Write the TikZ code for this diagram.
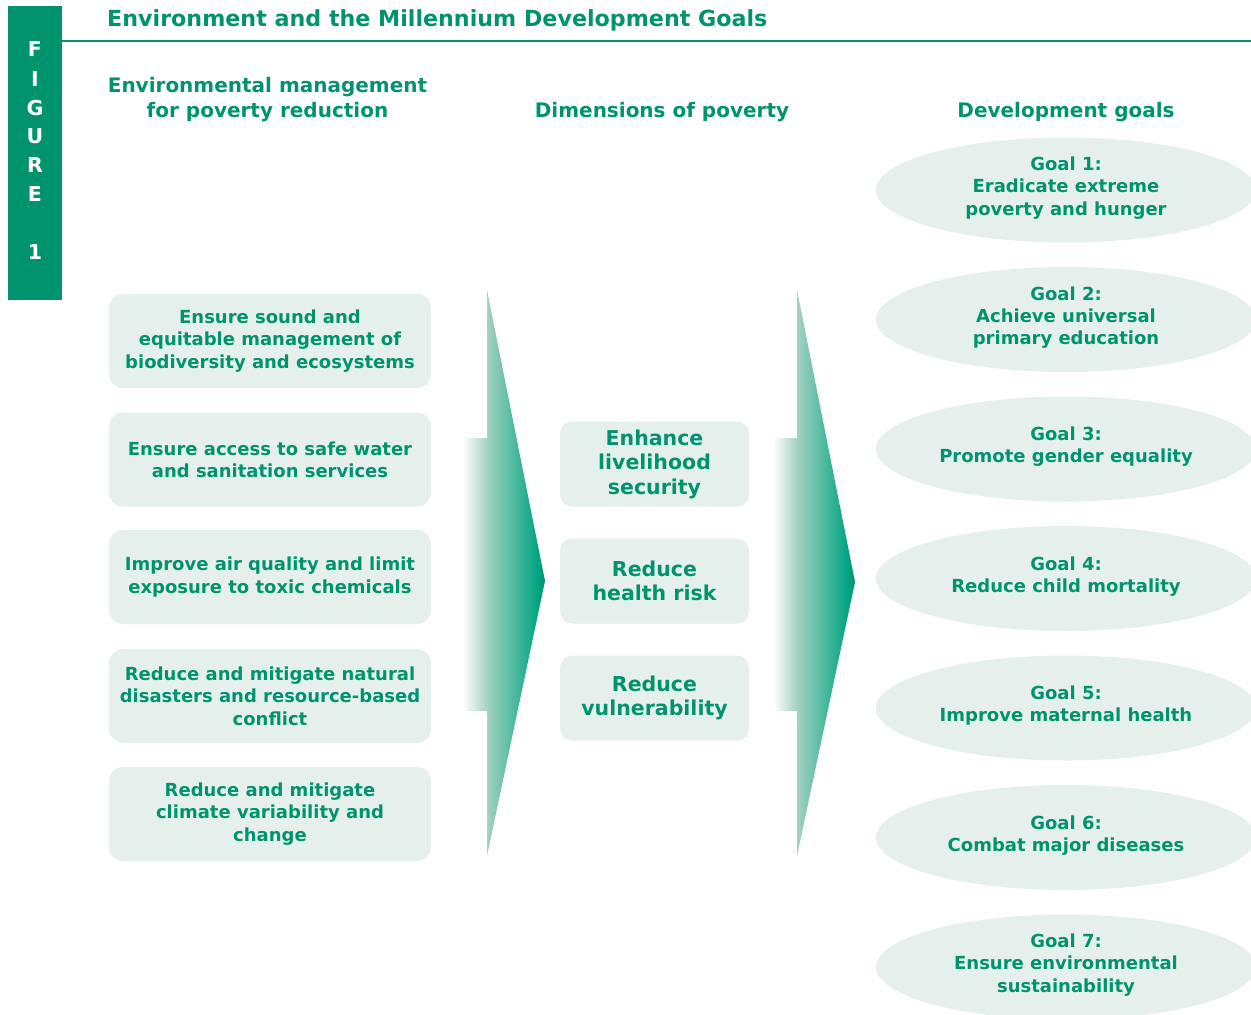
\documentclass[tikz,border=0pt]{standalone}
\usepackage{fontspec}
\setmainfont{DejaVu Sans}
\usetikzlibrary{shapes.geometric}
\definecolor{mdgreen}{RGB}{0,147,110}
\definecolor{boxfill}{RGB}{229,240,236}
\pgfdeclarehorizontalshading{arrowshade}{100bp}{rgb(0bp)=(1,1,1); rgb(25bp)=(1,1,1); rgb(39.6bp)=(0.64,0.82,0.76); rgb(71bp)=(0,0.64,0.5); rgb(75bp)=(0,0.57,0.43); rgb(100bp)=(0,0.57,0.43)}
\begin{document}
\begin{tikzpicture}[x=1pt,y=-1pt,
  txt/.style={text=mdgreen, font=\bfseries\fontsize{18}{22.3}\selectfont, align=center},
  hdr/.style={text=mdgreen, font=\bfseries\fontsize{20}{25}\selectfont, align=center},
  figl/.style={text=white, font=\bfseries\fontsize{20.5}{24}\selectfont, anchor=base, inner sep=0pt},
  lbox/.style={txt, fill=boxfill, rounded corners=14pt, minimum width=322pt, minimum height=94pt, inner sep=0pt},
  mbox/.style={fill=boxfill, rounded corners=12pt, minimum width=189pt, minimum height=85pt, inner sep=0pt,
    text=mdgreen, font=\bfseries\fontsize{20.5}{24.5}\selectfont, align=center},
  goal/.style={txt, ellipse, fill=boxfill, minimum width=380pt, minimum height=105pt, inner sep=0pt, text depth=8pt},
  bigarrow/.style={shading=arrowshade}
]
\useasboundingbox (0,0) rectangle (1251,1015);
\fill[white] (0,0) rectangle (1251,1015);

% figure tag
\fill[mdgreen] (8,6) rectangle (62,299.5);
\node[figl] (fF) at (35,56.7) {F};
\node[figl] (fI) at (35,86) {I};
\node[figl] (fG) at (35,115) {G};
\node[figl] (fU) at (35,143.5) {U};
\node[figl] (fR) at (35,172.3) {R};
\node[figl] (fE) at (35,201) {E};
\node[figl] (f1) at (35,259.3) {1};

% title and rule
\node[text=mdgreen, font=\bfseries\fontsize{22.2}{26}\selectfont, anchor=base west, inner sep=0pt] (title) at (107,26) {Environment and the Millennium Development Goals};
\draw[mdgreen, line width=2pt] (62,41) -- (1251,41);

% column headers
\node[hdr] (h1) at (267.5,99.5) {Environmental management\\for poverty reduction};
\node[hdr, anchor=base] (h2) at (662,117.5) {Dimensions of poverty};
\node[hdr, anchor=base] (h3) at (1066,117.5) {Development goals};

% left boxes
\node[lbox] (l1) at (270,341) {Ensure sound and\\equitable management of\\biodiversity and ecosystems};
\node[lbox] (l2) at (270,459.5) {Ensure access to safe water\\and sanitation services};
\node[lbox] (l3) at (270,577) {Improve air quality and limit\\exposure to toxic chemicals};
\node[lbox] (l4) at (270,696) {Reduce and mitigate natural\\disasters and resource-based\\conflict};
\node[lbox] (l5) at (270,814) {Reduce and mitigate\\climate variability and\\change};

% arrows
\shade[bigarrow] (463,438) -- (487,438) -- (487,290) -- (545,581) -- (487,856) -- (487,711) -- (463,711) -- cycle;
\shade[bigarrow] (773,438) -- (797,438) -- (797,290) -- (855,582) -- (797,856) -- (797,711) -- (773,711) -- cycle;

% middle boxes
\node[mbox] (m1) at (654.5,464) {Enhance\\livelihood\\security};
\node[mbox] (m2) at (654.5,581) {Reduce\\health risk};
\node[mbox] (m3) at (654.5,698) {Reduce\\vulnerability};

% goals
\node[goal] (g1) at (1066,190) {Goal 1:\\Eradicate extreme\\poverty and hunger};
\node[goal] (g2) at (1066,319.5) {Goal 2:\\Achieve universal\\primary education};
\node[goal] (g3) at (1066,449) {Goal 3:\\Promote gender equality};
\node[goal] (g4) at (1066,578.5) {Goal 4:\\Reduce child mortality};
\node[goal] (g5) at (1066,708) {Goal 5:\\Improve maternal health};
\node[goal] (g6) at (1066,837.5) {Goal 6:\\Combat major diseases};
\node[goal] (g7) at (1066,967) {Goal 7:\\Ensure environmental\\sustainability};
\end{tikzpicture}
\end{document}
